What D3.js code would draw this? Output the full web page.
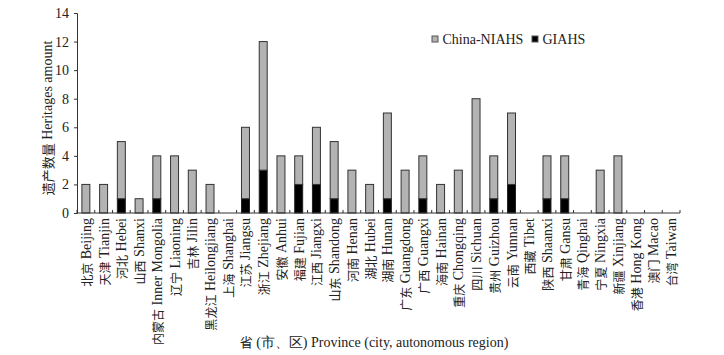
<!DOCTYPE html>
<html><head><meta charset="utf-8">
<script src="https://cdn.jsdelivr.net/npm/d3@7/dist/d3.min.js"></script>
<style>body{margin:0;background:#fff}svg{display:block}</style>
</head><body>
<script>
const provinces = ["北京 Beijing","天津 Tianjin","河北 Hebei","山西 Shanxi","内蒙古 Inner Mongolia","辽宁 Liaoning","吉林 Jilin","黑龙江 Heilongjiang","上海 Shanghai","江苏 Jiangsu","浙江 Zhejiang","安徽 Anhui","福建 Fujian","江西 Jiangxi","山东 Shandong","河南 Henan","湖北 Hubei","湖南 Hunan","广东 Guangdong","广西 Guangxi","海南 Hainan","重庆 Chongqing","四川 Sichuan","贵州 Guizhou","云南 Yunnan","西藏 Tibet","陕西 Shaanxi","甘肃 Gansu","青海 Qinghai","宁夏 Ningxia","新疆 Xinjiang","香港 Hong Kong","澳门 Macao","台湾 Taiwan"];
const giahs =  [0,0,1,0,1,0,0,0,0,1,3,0,2,2,1,0,0,1,0,1,0,0,0,1,2,0,1,1,0,0,0,0,0,0];
const niahs =  [2,2,4,1,3,4,3,2,0,5,9,4,2,4,4,3,2,6,3,3,2,3,8,3,5,0,3,3,0,3,4,0,0,0];
const yTicks = [0,2,4,6,8,10,12,14];
const seriesNames = ["China-NIAHS","GIAHS"];
const seriesColors = ["#b3b3b3","#000000"];

const W=724,H=355;
const m={l:77,r:44,t:13,b:142};
const svg=d3.select("body").append("svg").attr("width",W).attr("height",H);
const x=d3.scaleBand().domain(provinces).range([m.l,W-m.r]).paddingInner(0.55).paddingOuter(0.275);
const y=d3.scaleLinear().domain([0,14]).range([H-m.b,m.t]);
const serif="'Liberation Serif','Times New Roman',serif";
const cjkf="'Noto Sans CJK SC',sans-serif";

// helper: write mixed text with CJK part smaller
function mixed(sel, str, latinSize, cjkSize){
  const idx=str.indexOf(" ");
  const zh=str.slice(0,idx), en=str.slice(idx);
  sel.append("tspan").attr("font-family",cjkf).attr("font-size",cjkSize).text(zh);
  sel.append("tspan").attr("font-family",serif).attr("font-size",latinSize).text(en);
}

const data=provinces.map((p,i)=>({p,g:giahs[i],n:niahs[i]}));
const g=svg.append("g");
g.selectAll(".gi").data(data.filter(d=>d.g>0)).join("rect")
 .attr("x",d=>x(d.p)).attr("width",x.bandwidth())
 .attr("y",d=>y(d.g)).attr("height",d=>y(0)-y(d.g))
 .attr("fill",seriesColors[1]).attr("stroke","#222").attr("stroke-width",1);
g.selectAll(".ni").data(data.filter(d=>d.n>0)).join("rect")
 .attr("x",d=>x(d.p)).attr("width",x.bandwidth())
 .attr("y",d=>y(d.g+d.n)).attr("height",d=>y(d.g)-y(d.g+d.n))
 .attr("fill",seriesColors[0]).attr("stroke","#333").attr("stroke-width",1);

// y axis
const ya=svg.append("g").attr("transform",`translate(${m.l},0)`)
 .call(d3.axisLeft(y).tickValues(yTicks).tickSize(3).tickPadding(5));
ya.select(".domain").attr("stroke","#333");
ya.selectAll(".tick line").attr("stroke","#333");
ya.selectAll("text").attr("font-family",serif).attr("font-size",14).attr("fill","#222");

// x axis
const xg=svg.append("g");
xg.append("line").attr("x1",m.l).attr("x2",W-m.r).attr("y1",y(0)).attr("y2",y(0)).attr("stroke","#333");
const step=x.step();
const bounds=d3.range(provinces.length+1).map(i=>m.l+i*step);
xg.selectAll(".bt").data(bounds).join("line")
 .attr("x1",d=>d).attr("x2",d=>d).attr("y1",y(0)).attr("y2",y(0)-3).attr("stroke","#333");
xg.selectAll(".lbl").data(provinces).join("text")
 .attr("transform",d=>`translate(${x(d)+x.bandwidth()/2},${y(0)+5}) rotate(-90)`)
 .attr("text-anchor","end").attr("dominant-baseline","central").attr("fill","#222")
 .each(function(d){ mixed(d3.select(this), d, 14, 12); });

// axis titles
const yt=svg.append("text").attr("transform",`translate(47,${(y(0)+y(14))/2+5}) rotate(-90)`)
 .attr("text-anchor","middle").attr("dominant-baseline","central").attr("fill","#222");
mixed(yt,"遗产数量 Heritages amount",14,13);
const xt=svg.append("text").attr("x",374).attr("y",347).attr("text-anchor","middle").attr("fill","#222");
mixed(xt,"省 (市、区) Province (city, autonomous region)",14,13);

// legend
const leg=svg.append("g");
const lx=[432,532];
seriesNames.forEach((s,i)=>{
  leg.append("rect").attr("x",lx[i]).attr("y",36).attr("width",6).attr("height",6)
   .attr("fill",seriesColors[i]).attr("stroke","#555").attr("stroke-width",1);
  leg.append("text").attr("x",lx[i]+10.5).attr("y",44).attr("font-family",serif)
   .attr("font-size",14).attr("fill","#222").text(s);
});
</script>
</body></html>
